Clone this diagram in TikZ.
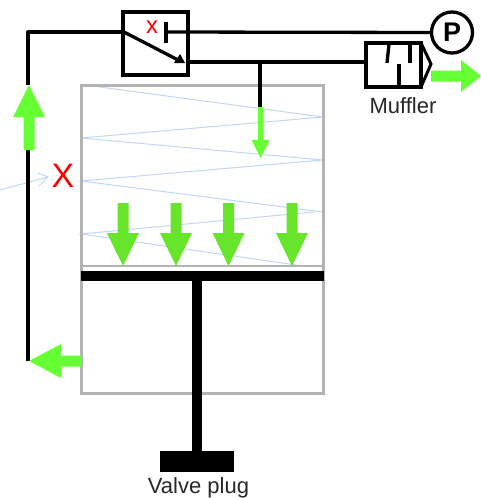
\documentclass[tikz,border=0pt]{standalone}
\usepackage{fontspec}
\setmainfont{Liberation Sans}
\definecolor{gbright}{HTML}{66FF33}
\definecolor{gdark}{HTML}{66E52B}
\definecolor{springblue}{HTML}{BFD6FA}
\definecolor{cylgray}{HTML}{B3B3B3}
\tikzset{
  wire/.style={draw=black,line width=3.3pt},
  spring/.style={draw=springblue,line width=1pt},
  cyl/.style={draw=cylgray,line width=3pt,outer sep=0pt},
  label/.style={font=\fontsize{22}{24}\selectfont,text=black!85,inner sep=0pt},
  symb/.style={draw=black,line width=3.3pt,inner sep=0pt,outer sep=0pt},
}
% #1 colour, #2 tail x, #3 tail y, #4 tip x, #5 tip y, #6 shaft half-width, #7 head half-width, #8 head length
\newcommand{\bigarrow}[8]{%
  \begin{scope}[shift={(#4,#5)}]
    \pgfmathsetmacro{\dirx}{#2-#4}\pgfmathsetmacro{\diry}{#3-#5}
    \pgfmathsetmacro{\len}{sqrt(\dirx*\dirx+\diry*\diry)}
    \pgfmathsetmacro{\ux}{\dirx/\len}\pgfmathsetmacro{\uy}{\diry/\len}
    \fill[#1] (0,0)
      -- ({#8*\ux-#7*\uy},{#8*\uy+#7*\ux})
      -- ({#8*\ux-#6*\uy},{#8*\uy+#6*\ux})
      -- ({\len*\ux-#6*\uy},{\len*\uy+#6*\ux})
      -- ({\len*\ux+#6*\uy},{\len*\uy-#6*\ux})
      -- ({#8*\ux+#6*\uy},{#8*\uy-#6*\ux})
      -- ({#8*\ux+#7*\uy},{#8*\uy-#7*\ux}) -- cycle;
  \end{scope}}
\begin{document}
\begin{tikzpicture}[x=1pt,y=-1pt]
\useasboundingbox (0,0) rectangle (481,498);
% spring
\draw[spring] (100,87) -- (323,117) -- (81,138) -- (323,160) -- (81,181) -- (323,212);
\draw[spring] (313,212) -- (81,234) -- (303,266);
\coordinate (sprfar) at (0,190);
\coordinate (sprtip) at (48,177);
\draw[spring] (sprfar) -- (sprtip);
\draw[spring,line join=round] (38,173) -- (sprtip) -- (39,186);
% cylinder
\node[cyl,minimum width=242pt,minimum height=308pt,inner sep=0pt,anchor=north west] (cyl) at (81,85) {};
\draw[cyl,line width=2.5pt] (81,266) -- (323,266);
% piston
\fill[black] (81,271) rectangle (324,281);
\fill[black] (192,281) rectangle (202,452);
\fill[black] (160,451) rectangle (234,472);
% valve
\node[symb,minimum width=65pt,minimum height=63pt,anchor=north west] (valve) at (123,12) {};
\coordinate (vin) at (124,32);
\coordinate (vout) at (188,62);
\coordinate (vstop) at (166,32);
\coordinate (corner) at (28,32);
\coordinate (lowend) at (28,361);
\coordinate (upend) at (28,85);
\coordinate (midend) at (28,148);
\draw[wire,line join=round] (vin) -- (corner) -- (upend);
\draw[wire] (midend) -- (lowend);
\draw[black,line width=3.3pt] (166,22) -- (166,43);
\draw[black,line width=3.3pt] (vin) -- (180,61);
\fill[black] (185,63) -- (174,63) -- (180,54) -- cycle;
% pump
\node[symb,circle,minimum size=41pt,font=\fontsize{27}{29}\bfseries\selectfont] (pump) at (452,32.5) {P};
\draw[wire] (vstop) -- (pump.west);
% muffler
\node[symb,minimum width=55pt,minimum height=44pt,anchor=north west] (muf) at (366,43) {};
\draw[black,line width=3pt,line join=miter] (muf.north east) -- (431,64) -- (muf.south east);
\draw[black,line width=3.3pt] (389,44) -- (387,63);
\draw[black,line width=3.3pt] (410,44) -- (410,63);
\draw[black,line width=3.3pt] (399,64) -- (399,87);
\draw[wire] (vout) -- (366,62);
\coordinate (branch) at (260,62);
\coordinate (branchend) at (260,107);
\draw[wire] (branch) -- (branchend);
% green arrows
\bigarrow{gbright}{260.5}{107}{260.5}{158}{2.5}{9}{18}
\bigarrow{gbright}{29}{150}{29}{85}{5.5}{16}{32}
\bigarrow{gbright}{81}{361}{29}{361}{5.5}{17}{32}
\bigarrow{gbright}{431}{76}{481}{76}{5.5}{16}{20}
\bigarrow{gdark}{123}{203}{123}{266}{5.5}{16}{33}
\bigarrow{gdark}{176}{203}{176}{266}{5.5}{16}{33}
\bigarrow{gdark}{228.5}{203}{228.5}{266}{5.5}{16}{33}
\bigarrow{gdark}{292}{203}{292}{266}{5.5}{16}{33}
% labels
\node[label] (muflab) at (403,106) {Muffler};
\node[label] (plug) at (198.5,488) {Valve plug};
\node[inner sep=0pt,text=red,font=\fontsize{24}{26}\selectfont] (xs) at (152,27) {x};
\node[inner sep=0pt,text=red,font=\fontsize{34}{36}\selectfont] (xb) at (63,176) {X};
\end{tikzpicture}
\end{document}
